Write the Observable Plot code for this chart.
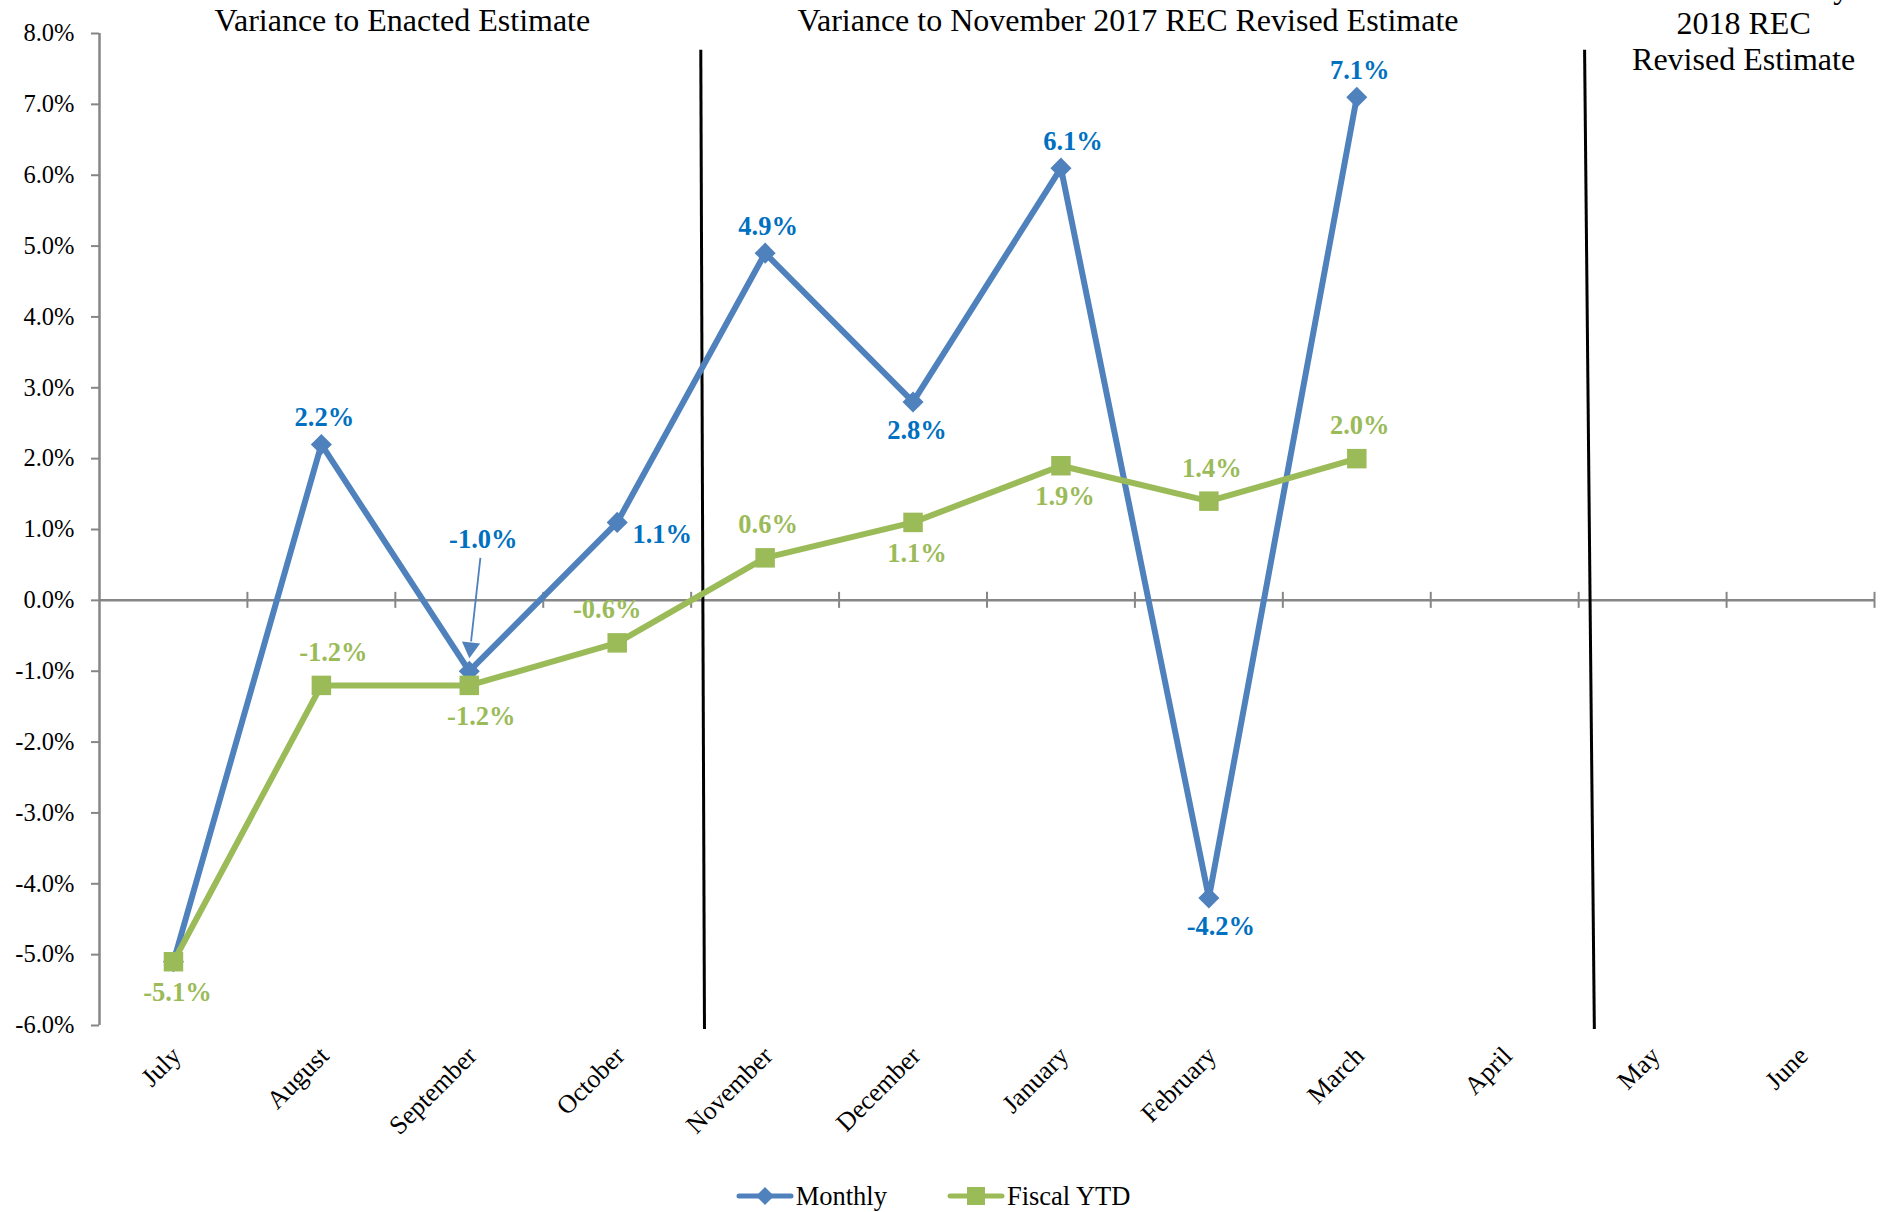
<!DOCTYPE html>
<html><head><meta charset="utf-8">
<script src="https://cdn.jsdelivr.net/npm/d3@7"></script>
<script src="https://cdn.jsdelivr.net/npm/@observablehq/plot@0.6"></script>
<style>
html,body{margin:0;padding:0;background:#fff;overflow:hidden;}
body{font-family:'Liberation Serif','Times New Roman',serif;}
#legend{display:flex;justify-content:center;align-items:center;gap:60px;height:30px;margin-top:16px;padding-right:20px;font-size:26.5px;color:#000;}
.item{display:flex;align-items:center;gap:2px;}
</style></head><body>
<div id="chart"></div>
<div id="legend"></div>
<script>
// ---- data ----
const months = ["July","August","September","October","November","December","January","February","March","April","May","June"];
const monthly = [-5.1, 2.2, -1.0, 1.1, 4.9, 2.8, 6.1, -4.2, 7.1, null, null, null];
const fiscalYTD = [-5.1, -1.2, -1.2, -0.6, 0.6, 1.1, 1.9, 1.4, 2.0, null, null, null];
const monthlyLabelPlacement = [null, "above", "arrow", "right", "above", "below", "above-right", "below-right", "above", null, null, null];
const ytdLabelPlacement = ["below", "above-right", "below-right", "above-left", "above", "below", "below", "above", "above", null, null, null];
const sectionTitles = ["Variance to Enacted Estimate", "Variance to November 2017 REC Revised Estimate", "Variance to May\n2018 REC\nRevised Estimate"];
const sectionFirstMonth = [0, 4, 10];
const sectionLastMonth = [3, 9, 11];
const yTicks = [-6, -5, -4, -3, -2, -1, 0, 1, 2, 3, 4, 5, 6, 7, 8];

// ---- styles ----
const BLUE = "#4F81BD", BLUE_LABEL = "#0070C0", GREEN = "#9BBB59", GRAY = "#868686";
const FONT = "'Liberation Serif', 'Times New Roman', serif";
const titleNudge = [0.047, -0.047, 0.115];          // in month units
const dividerSkew = [[0.065, 0.09], [0.04, 0.106]]; // in month units
const labelDx = {"above": 3, "below": 4, "above-right": 12, "below-right": 12, "above-left": -10};
const LABEL_SIZE = 26.5;

const rows = months.map((m, i) => ({i, month: m, monthly: monthly[i], ytd: fiscalYTD[i],
  mPos: monthlyLabelPlacement[i], yPos: ytdLabelPlacement[i]}));
const mRows = rows.filter(d => d.monthly != null);
const yRows = rows.filter(d => d.ytd != null);
const fmt = v => v.toFixed(1) + "%";

const sections = sectionTitles.map((t, k) => ({title: t,
  mid: (sectionFirstMonth[k] - 0.5 + sectionLastMonth[k] + 0.5) / 2 + titleNudge[k],
  multi: t.includes("\n")}));
const dividers = sectionLastMonth.slice(0, 2).map((m, k) => ({at: m + 0.5, top: dividerSkew[k][0], bottom: dividerSkew[k][1]}));
const boundaries = months.map((_, i) => i + 0.5);
const arrowRows = mRows.filter(d => d.mPos === "arrow");

function labelMarks(data, key, posKey, color) {
  const out = [];
  for (const pos of Object.keys(labelDx)) {
    const sub = data.filter(d => d[posKey] === pos);
    if (!sub.length) continue;
    const up = pos.startsWith("above");
    out.push(Plot.text(sub, {x: "i", y: key, text: d => fmt(d[key]),
      dy: up ? (key === "ytd" ? -33 : -27) : (key === "ytd" ? 31 : 29),
      dx: labelDx[pos], fill: color, fontWeight: "bold", fontSize: LABEL_SIZE, fontFamily: FONT}));
  }
  const right = data.filter(d => d[posKey] === "right");
  if (right.length) out.push(Plot.text(right, {x: "i", y: key, text: d => fmt(d[key]), dy: 12, dx: 45,
    fill: color, fontWeight: "bold", fontSize: LABEL_SIZE, fontFamily: FONT}));
  return out;
}

const chart = Plot.plot({
  width: 1886, height: 1165,
  marginLeft: 99, marginRight: 12, marginTop: 33, marginBottom: 140,
  x: {type: "linear", domain: [-0.5, 11.5]},
  y: {domain: [-6, 8]},
  style: {fontFamily: FONT, fontSize: "24px", color: "#000", background: "#fff", overflow: "hidden"},
  marks: [
    // y axis
    Plot.axisY(yTicks, {tickSize: 8, stroke: GRAY, strokeWidth: 2, tickFormat: () => "", label: null}),
    Plot.axisY(yTicks, {tickSize: 0, tickPadding: 25, tickFormat: fmt, fill: "#000", fontSize: 24.5, fontFamily: FONT, label: null}),
    Plot.ruleX([-0.5], {stroke: GRAY, strokeWidth: 2.5}),
    // x axis (zero line + boundary ticks)
    Plot.ruleY([0], {stroke: GRAY, strokeWidth: 2.5}),
    Plot.ruleX(boundaries, {y1: 0, y2: 0, insetTop: -8, insetBottom: -8, stroke: GRAY, strokeWidth: 2}),
    Plot.axisX(months.map((_, i) => i), {tickSize: 0, tickPadding: 26, tickRotate: -45, tickFormat: i => months[i],
      fontSize: 26, fontFamily: FONT, fill: "#000", label: null, dx: 3}),
    // section dividers and titles
    Plot.link(dividers, {x1: d => d.at + d.top, x2: d => d.at + d.bottom, y1: 7.77, y2: -6.05, stroke: "#000", strokeWidth: 3}),
    Plot.text(sections.filter(d => !d.multi), {x: "mid", frameAnchor: "top", text: "title", dy: -13, fontSize: 32, fontFamily: FONT, lineAnchor: "middle"}),
    Plot.text(sections.filter(d => d.multi), {x: "mid", frameAnchor: "top", text: "title", dy: -11, fontSize: 32, fontFamily: FONT, lineAnchor: "middle", lineHeight: 1.13}),
    // series
    Plot.line(mRows, {x: "i", y: "monthly", stroke: BLUE, strokeWidth: 6}),
    Plot.dot(mRows, {x: "i", y: "monthly", symbol: "diamond2", r: 9.5, fill: BLUE, stroke: null}),
    Plot.line(yRows, {x: "i", y: "ytd", stroke: GREEN, strokeWidth: 6}),
    Plot.dot(yRows, {x: "i", y: "ytd", symbol: "square", r: 11, fill: GREEN, stroke: null}),
    // labels
    ...labelMarks(mRows, "monthly", "mPos", BLUE_LABEL),
    Plot.text(arrowRows, {x: "i", y: "monthly", text: d => fmt(d.monthly), dy: -132, dx: 14, fill: BLUE_LABEL, fontWeight: "bold", fontSize: LABEL_SIZE, fontFamily: FONT}),
    Plot.link(arrowRows, {x1: d => d.i + 0.075, y1: d => d.monthly + 1.6, x2: d => d.i + 0.012, y2: d => d.monthly + 0.42, stroke: BLUE, strokeWidth: 1.8}),
    Plot.dot(arrowRows, {x: d => d.i + 0.008, y: d => d.monthly + 0.33, symbol: "triangle", r: 6.8, rotate: 186, fill: BLUE, stroke: null}),
    ...labelMarks(yRows, "ytd", "yPos", GREEN)
  ]
});
document.getElementById("chart").appendChild(chart);

// legend
const legendItems = [{name: "Monthly", color: BLUE, symbol: "diamond"}, {name: "Fiscal YTD", color: GREEN, symbol: "square"}];
const legend = d3.select("#legend");
legendItems.forEach(it => {
  const item = legend.append("div").attr("class", "item");
  const svg = item.append("svg").attr("width", 58).attr("height", 26);
  svg.append("line").attr("x1", 3).attr("x2", 55).attr("y1", 13).attr("y2", 13)
    .attr("stroke", it.color).attr("stroke-width", 5).attr("stroke-linecap", "round");
  if (it.symbol === "diamond") {
    svg.append("path").attr("d", "M29,4L38,13L29,22L20,13Z").attr("fill", it.color);
  } else {
    svg.append("rect").attr("x", 20).attr("y", 4).attr("width", 18).attr("height", 18).attr("fill", it.color);
  }
  item.append("span").text(it.name);
});
</script>
</body></html>
